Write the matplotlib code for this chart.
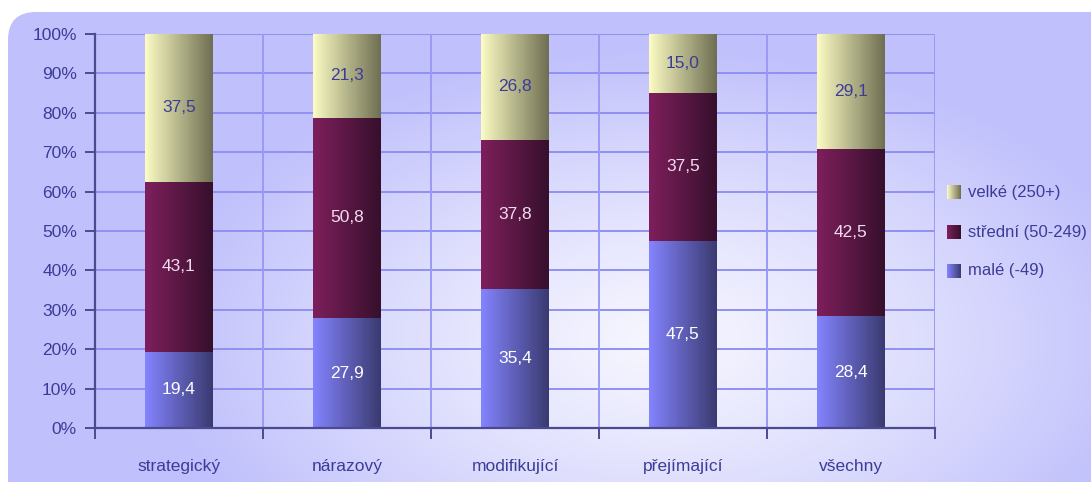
import numpy as np
import matplotlib
matplotlib.use("Agg")
import matplotlib.pyplot as plt
from matplotlib.patches import FancyBboxPatch
from matplotlib.colors import LinearSegmentedColormap

categories = ["strategický", "nárazový", "modifikující", "přejímající", "všechny"]
male = [19.4, 27.9, 35.4, 47.5, 28.4]
stredni = [43.1, 50.8, 37.8, 37.5, 42.5]
velke = [37.5, 21.3, 26.8, 15.0, 29.1]
series_names = ["malé (-49)", "střední (50-249)", "velké (250+)"]
y_ticks = [0, 10, 20, 30, 40, 50, 60, 70, 80, 90, 100]

FONT = ["Liberation Sans Narrow", "Liberation Sans", "DejaVu Sans"]
TXT = "#3c3c98"
plt.rcParams["font.family"] = FONT

# left -> right shading for each series
grads = [("#8484ff", "#3a3a70"), ("#7e1f5c", "#36102c"), ("#fcfcc4", "#6e6e52")]
label_colors = ["white", "#f2dcf0", TXT]

W, H = 1091, 482
fig = plt.figure(figsize=(W / 100, H / 100), dpi=100)
fig.patch.set_facecolor("white")

# rounded panel with a soft radial glow
bg = fig.add_axes([0, 0, 1, 1])
bg.set_xlim(0, W)
bg.set_ylim(H, 0)
bg.axis("off")
yy, xx = np.mgrid[0:H, 0:W]
d = np.sqrt(((xx - 660) / 500.0) ** 2 + ((yy - 340) / 290.0) ** 2)
t = np.clip(d, 0, 1) ** 1.2
c0 = np.array([0.965, 0.965, 1.0])
c1 = np.array([0.755, 0.755, 0.99])
img = c0[None, None, :] * (1 - t[..., None]) + c1[None, None, :] * t[..., None]
panel = FancyBboxPatch((8, 12), W + 30, H + 30, boxstyle="round,pad=0,rounding_size=28",
                       transform=bg.transData, facecolor="none", edgecolor="none")
bg.add_patch(panel)
im = bg.imshow(img, extent=[0, W, H, 0], zorder=0)
im.set_clip_path(panel)

ax = fig.add_axes([95 / W, 54 / H, 840 / W, 394 / H])
ax.set_facecolor("none")
x = np.arange(len(categories))

for yv in y_ticks[1:]:
    ax.axhline(yv, color="#9090f4", lw=1.4, zorder=1)
for xv in np.arange(-0.5, len(categories), 1.0):
    ax.axvline(xv, color="#9a9af6", lw=1.4, zorder=1)

bottom = np.zeros(len(categories))
for vals, (ca, cb), lc in zip([male, stredni, velke], grads, label_colors):
    vals = np.array(vals)
    bars = ax.bar(x, vals, width=0.4, bottom=bottom, color="none", edgecolor="none", zorder=2)
    cmap = LinearSegmentedColormap.from_list("g", [ca, cb])
    grad = np.linspace(0, 1, 256)[None, :]
    for b, v, b0 in zip(bars, vals, bottom):
        x0, w = b.get_x(), b.get_width()
        gi = ax.imshow(grad, cmap=cmap, aspect="auto", extent=[x0, x0 + w, b0, b0 + v],
                       zorder=2, interpolation="bilinear")
        gi.set_clip_path(b)
        ax.text(x0 + w / 2, b0 + v / 2, f"{v:.1f}".replace(".", ","), ha="center", va="center",
                color=lc, fontsize=12.5, zorder=3)
    bottom += vals
ax.set_xlim(-0.5, len(categories) - 0.5)
ax.set_ylim(0, 100)

ax.set_yticks(y_ticks)
ax.set_yticklabels([f"{v}%" for v in y_ticks], color=TXT, fontsize=12.5)
ax.set_xticks(x)
ax.set_xticklabels(categories, color=TXT, fontsize=12.5)
ax.tick_params(axis="x", length=0, pad=22)
ax.set_xticks(np.arange(-0.5, len(categories), 1.0), minor=True)
ax.tick_params(axis="x", which="minor", length=8, width=1.4, color="#4a4a90")
ax.tick_params(axis="y", length=7, width=1.4, color="#4a4a90", pad=6)
for s in ["top", "right"]:
    ax.spines[s].set_visible(False)
for s in ["left", "bottom"]:
    ax.spines[s].set_color("#4a4a90")
    ax.spines[s].set_linewidth(1.6)
    ax.spines[s].set_zorder(4)

# legend, top entry first
leg_y = [192, 232, 271]
for yp, name, (ca, cb) in zip(leg_y, series_names[::-1], grads[::-1]):
    cmap = LinearSegmentedColormap.from_list("g", [ca, cb])
    bg.imshow(np.linspace(0, 1, 64)[None, :], cmap=cmap, aspect="auto",
              extent=[947, 961, yp + 7, yp - 7], zorder=2)
    bg.text(968, yp, name, color=TXT, fontsize=12, va="center", ha="left", zorder=3)
bg.set_xlim(0, W)
bg.set_ylim(H, 0)

fig.savefig("out.png", dpi=100)
